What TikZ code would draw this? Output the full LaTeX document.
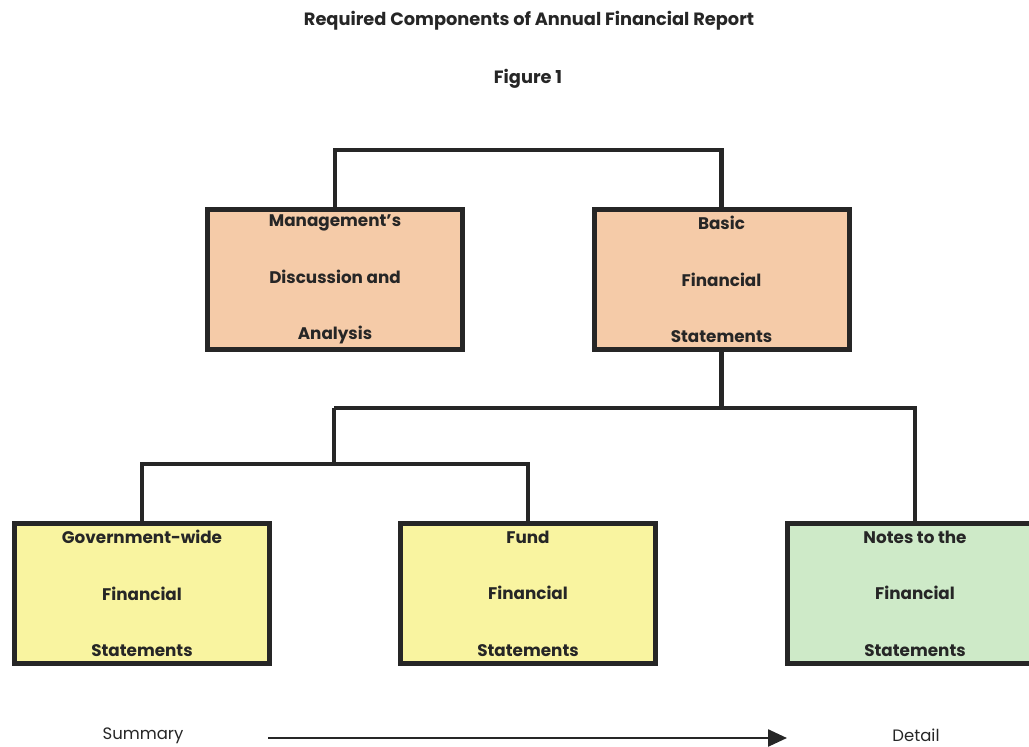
\documentclass[tikz,border=0pt]{standalone}
\usepackage{fontspec}
\setmainfont{Poppins}
\usetikzlibrary{arrows.meta}
\definecolor{peach}{RGB}{245,203,168}
\definecolor{lemon}{RGB}{249,244,160}
\definecolor{mint}{RGB}{206,234,200}
\definecolor{ink}{RGB}{38,38,38}
\tikzset{
  box/.style={draw=ink, line width=5pt, minimum width=255pt, minimum height=140pt,
    inner sep=0pt, align=center, text=ink,
    font=\fontsize{16.8}{56.5}\selectfont\bfseries},
  conn/.style={draw=ink, line width=4.5pt},
  heading/.style={text=ink, font=\fontsize{17.8}{20}\selectfont\bfseries},
  axislabel/.style={text=ink, inner sep=1pt, font=\fontsize{16.5}{20}\selectfont}
}
\begin{document}
\begin{tikzpicture}[x=1pt, y=-1pt]
\useasboundingbox (0,0) rectangle (1029,747);
\node[heading] (title) at (529,21) {Required Components of Annual Financial Report};
\node[heading] (fig) at (528,79) {Figure 1};

\node[box, fill=peach] (mda) at (335,279.5) {Management{\char"0027}s\\Discussion and\\Analysis};
\node[box, fill=peach] (bfs) at (721.5,279.5) {Basic\\Financial\\Statements};
\node[box, fill=lemon] (gov) at (142,593.5) {Government-wide\\Financial\\Statements};
\node[box, fill=lemon] (fund) at (528,593.5) {Fund\\Financial\\Statements};
\node[box, fill=mint] (notes) at (915,593.5) {Notes to the\\Financial\\Statements};

\coordinate (top) at (528,150);
\coordinate (h1) at (334,408);
\coordinate (h2) at (334,464);
\draw[conn] (mda.north) |- (top) -| (bfs.north);
\draw[conn] (bfs.south) -- (bfs.south |- h1);
\draw[conn] (h1) -| (notes.north);
\draw[conn] (h1) -- (h2);
\draw[conn] (gov.north) |- (h2) -| (fund.north);

\node[axislabel] (sum) at (143,735.5) {Summary};
\node[axislabel] (det) at (916,735.5) {Detail};
\coordinate (as) at (268,738);
\coordinate (ae) at (787,738);
\draw[draw=ink, line width=2.5pt, -{Triangle[length=19pt,width=17pt]}] (as) -- (ae);
\end{tikzpicture}
\end{document}
